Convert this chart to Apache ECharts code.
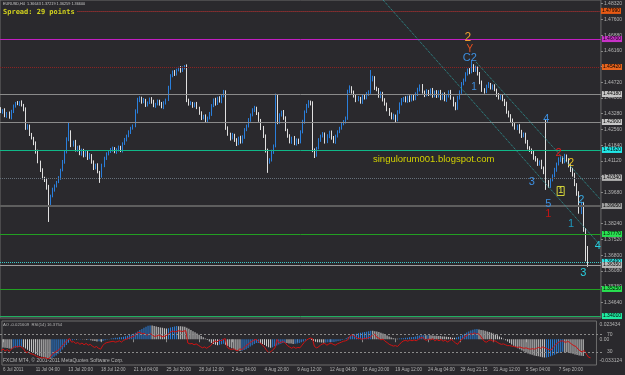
<!DOCTYPE html>
<html>
<head>
<meta charset="utf-8">
<script src="https://cdn.jsdelivr.net/npm/echarts@6/dist/echarts.min.js"></script>
<style>
html,body{margin:0;padding:0;background:#2a292d;}
#chart{width:625px;height:375px;}
</style>
</head>
<body>
<div id="chart"></div>
<script>
// EURUSD H4, 6 Jul - 9 Sep 2011
var tickLabels = ['6 Jul 2011','11 Jul 04:00','13 Jul 20:00','18 Jul 12:00','21 Jul 04:00','25 Jul 20:00','28 Jul 12:00','2 Aug 04:00','4 Aug 20:00','9 Aug 12:00','12 Aug 04:00','16 Aug 20:00','19 Aug 12:00','24 Aug 04:00','28 Aug 21:15','31 Aug 12:00','5 Sep 04:00','7 Sep 20:00'];
var firstOpen = 1.4352;
var closes = [
1.4336,1.4345,1.4318,1.4331,1.4309,1.4336,1.4364,1.4377,1.4373,1.4382,
1.4368,1.4345,1.4263,1.4272,1.4231,1.4217,1.4194,1.4153,1.4107,1.4070,
1.4034,1.4025,1.3988,1.3910,1.3951,1.3979,1.3997,1.4015,1.4034,1.4070,
1.4107,1.4153,1.4208,1.4244,1.4185,1.4199,1.4162,1.4176,1.4144,1.4162,
1.4135,1.4153,1.4125,1.4139,1.4107,1.4080,1.4093,1.4061,1.4043,1.4089,
1.4125,1.4144,1.4153,1.4162,1.4171,1.4153,1.4162,1.4176,1.4158,1.4190,
1.4208,1.4226,1.4244,1.4263,1.4272,1.4336,1.4391,1.4400,1.4382,1.4391,
1.4368,1.4377,1.4396,1.4382,1.4364,1.4373,1.4386,1.4373,1.4359,1.4377,
1.4391,1.4446,1.4501,1.4519,1.4510,1.4528,1.4538,1.4524,1.4538,1.4542,
1.4391,1.4373,1.4377,1.4364,1.4373,1.4354,1.4331,1.4309,1.4318,1.4295,
1.4309,1.4327,1.4364,1.4391,1.4373,1.4400,1.4386,1.4409,1.4423,1.4263,
1.4235,1.4217,1.4231,1.4208,1.4190,1.4217,1.4199,1.4222,1.4254,1.4272,
1.4299,1.4322,1.4345,1.4354,1.4327,1.4299,1.4263,1.4226,1.4162,1.4107,
1.4116,1.4153,1.4180,1.4405,1.4290,1.4322,1.4336,1.4309,1.4254,1.4226,
1.4199,1.4217,1.4190,1.4208,1.4199,1.4244,1.4290,1.4336,1.4364,1.4382,
1.4373,1.4162,1.4139,1.4171,1.4208,1.4226,1.4235,1.4199,1.4226,1.4244,
1.4217,1.4199,1.4226,1.4244,1.4263,1.4281,1.4290,1.4309,1.4428,1.4446,
1.4428,1.4409,1.4391,1.4400,1.4382,1.4409,1.4400,1.4418,1.4428,1.4483,
1.4492,1.4446,1.4437,1.4409,1.4423,1.4391,1.4373,1.4345,1.4327,1.4309,
1.4318,1.4299,1.4336,1.4373,1.4391,1.4400,1.4386,1.4405,1.4391,1.4409,
1.4396,1.4418,1.4437,1.4455,1.4428,1.4414,1.4432,1.4418,1.4437,1.4409,
1.4428,1.4409,1.4428,1.4400,1.4418,1.4391,1.4409,1.4428,1.4400,1.4373,
1.4354,1.4400,1.4428,1.4464,1.4483,1.4510,1.4528,1.4519,1.4547,1.4528,
1.4538,1.4510,1.4473,1.4437,1.4428,1.4455,1.4464,1.4446,1.4455,1.4437,
1.4414,1.4400,1.4409,1.4391,1.4373,1.4336,1.4318,1.4299,1.4276,1.4263,
1.4272,1.4244,1.4226,1.4235,1.4199,1.4171,1.4162,1.4153,1.4125,1.4116,
1.4098,1.4107,1.4080,1.4061,1.4015,1.3997,1.4025,1.4043,1.4070,1.4098,
1.4116,1.4125,1.4107,1.4135,1.4116,1.4089,1.4070,1.4048,1.4002,1.3961,
1.3878,1.3915,1.3796,1.3664,1.3660];
// wick lengths in pips above / below the body
var wickUp = [
6,4,8,5,7,10,6,5,9,4,7,5,12,8,6,9,5,7,10,6,
8,5,9,14,6,10,7,5,8,6,9,7,12,42,8,6,9,5,7,6,
5,8,6,9,4,7,6,8,5,10,6,7,5,9,6,4,8,6,5,7,
9,6,8,5,7,12,10,8,6,9,5,7,6,8,10,5,7,6,9,8,
6,10,8,7,9,6,5,8,7,9,12,6,8,5,7,9,6,8,5,7,
6,9,8,7,10,6,8,9,14,12,7,6,9,5,8,6,10,7,8,6,
9,7,8,10,6,8,5,9,7,6,8,10,7,15,12,8,6,9,7,5,
8,6,9,7,6,8,10,7,9,8,6,12,7,5,8,6,9,7,8,6,
7,9,6,8,5,7,9,6,10,12,8,6,7,9,5,8,6,9,7,45,
10,8,6,9,7,5,8,6,9,7,10,6,8,7,9,5,8,6,7,9,
6,8,10,7,9,6,8,5,7,9,6,8,7,9,6,8,5,7,9,6,
8,10,7,9,6,8,7,9,27,8,10,6,9,7,8,6,9,5,7,8,
6,9,7,8,5,10,6,8,7,9,6,8,10,7,6,9,8,7,6,9,
8,7,10,6,238,9,8,7,10,6,12,8,7,9,6,8,7,10,9,8,
12,10,9,8,58];
var wickDn = [
5,8,6,9,4,7,5,8,6,10,7,6,9,8,5,7,10,8,6,9,
7,10,8,78,9,6,8,7,5,9,6,8,7,6,10,8,7,9,6,8,
7,5,9,6,8,10,7,6,32,8,6,9,7,5,8,6,9,7,6,8,
5,7,6,9,8,6,7,10,8,6,9,7,5,8,6,9,7,8,6,10,
7,5,8,6,9,7,6,8,5,7,10,8,6,9,7,5,8,10,7,6,
8,7,9,6,8,5,7,10,6,9,8,12,7,9,10,6,8,7,9,6,
7,8,6,9,5,8,10,9,12,50,8,7,9,6,10,8,7,9,6,8,
7,9,6,8,10,7,6,8,5,9,7,10,14,8,6,9,7,8,6,10,
8,6,9,7,5,8,6,7,9,6,8,7,10,6,8,9,7,6,8,9,
7,9,6,8,10,7,8,6,9,7,8,10,6,8,7,9,6,8,10,7,
8,6,9,7,8,10,6,9,7,8,6,9,7,10,8,6,9,7,8,12,
10,8,7,9,6,8,7,10,6,9,8,7,10,9,8,6,9,7,8,6,
9,7,8,6,10,8,7,9,6,8,10,7,9,6,8,7,9,10,8,7,
9,8,6,10,36,8,9,7,6,8,7,9,8,6,10,7,9,8,6,9,
8,10,9,12,34];
// Awesome Oscillator, in pips
var aoPips = [
-105,-110,-114,-118,-121,-116,-110,-104,-99,-96,
-104,-118,-135,-150,-165,-178,-192,-205,-215,-224,
-232,-238,-244,-248,-240,-226,-208,-186,-160,-132,
-102,-74,-46,-22,-12,-6,-8,-2,4,2,
-4,-10,-8,-14,-20,-24,-28,-26,-30,-24,
-14,-6,2,8,14,18,20,24,26,32,
38,46,54,62,70,82,100,118,132,146,
160,172,178,176,170,164,158,150,146,140,
138,142,150,158,164,170,168,166,164,160,
148,134,120,104,90,74,58,40,24,10,
-10,-30,-48,-60,-70,-76,-72,-66,-58,-70,
-86,-102,-116,-128,-138,-146,-150,-148,-140,-128,
-112,-94,-76,-60,-50,-48,-52,-60,-74,-90,
-102,-108,-104,-90,-80,-68,-58,-50,-48,-50,
-54,-56,-60,-58,-56,-50,-40,-28,-16,-6,
0,-10,-22,-32,-38,-40,-42,-44,-42,-40,
-38,-36,-34,-30,-24,-18,-10,-2,12,28,
42,54,64,72,78,84,88,92,96,104,
110,108,104,98,92,84,74,62,48,34,
22,12,8,6,8,12,14,18,20,24,
26,30,36,44,48,50,52,50,52,50,
48,46,44,42,40,36,34,32,30,26,
20,18,22,32,44,58,72,86,100,112,
122,128,130,126,120,114,108,100,92,84,
74,62,50,36,22,6,-12,-30,-50,-68,
-84,-100,-116,-130,-144,-158,-170,-182,-192,-200,
-208,-214,-220,-226,-232,-236,-234,-228,-220,-210,
-198,-186,-176,-168,-162,-164,-168,-172,-180,-188,
-196,-202,-208,-212,-216];
var rsi = [
33,36,32,35,31,36,40,42,41,43,
40,36,28,30,26,25,23,20,18,17,
16,17,15,14,20,26,29,32,35,41,
46,52,57,60,52,53,49,51,47,50,
46,49,45,47,43,40,42,38,36,44,
49,51,52,53,54,52,53,55,52,56,
58,60,62,64,65,70,74,74,71,72,
68,69,71,68,65,66,68,66,64,66,
68,72,76,77,75,77,78,76,77,78,
50,48,49,46,48,45,42,39,41,38,
41,44,50,55,52,57,55,58,60,40,
37,35,37,34,32,37,35,39,44,47,
51,54,57,58,54,50,45,40,33,28,
30,35,39,58,50,52,53,50,44,41,
38,41,38,40,39,45,51,56,59,61,
60,42,39,41,46,48,49,45,48,50,
47,45,48,50,52,54,55,57,65,69,
66,63,60,61,58,61,60,62,63,69,
70,63,61,57,59,54,51,47,45,43,
44,42,47,52,55,56,54,57,55,57,
55,58,61,63,58,56,59,57,60,55,
58,55,58,54,57,52,55,58,54,50,
47,54,58,63,66,69,71,70,73,70,
71,66,59,53,52,56,57,54,55,52,
49,47,48,46,44,44,43,42,41,40,
41,39,38,39,37,36,37,36,38,40,
38,41,39,37,35,34,40,45,50,53,
55,54,51,54,51,47,44,42,36,32,
30,33,25,18,16.4];
var aoMin = -0.033124, aoMax = 0.023434;
var levelPrices = [1.4799,1.4670,1.4542,1.4418,1.4290,1.4162,1.4034,1.3905,1.3777,1.3649,1.3635,1.3525,1.3401];
var trendLines = [[[185,1.4849],[290,1.3727]],[[230,1.4565],[290,1.3938]]];
var waveText  = ['2','Y','C2','1','4','2','2','1','3','5','1','2','1','4','3'];
var waveBar   = [226,227,227,229,264,270,276,271,257,265,265,281,276,289,282];
var wavePrice = [1.4675,1.4624,1.4583,1.4450,1.4304,1.4148,1.4102,1.3974,1.4015,1.3914,1.3868,1.3933,1.3823,1.3722,1.3598];

// styles
var levelStyle = [
  {color:'#c83232', type:'dotted', width:1, box:'#e85a14', from:37},
  {color:'#c21ec2', type:'solid', width:1, box:'#c832c8'},
  {color:'#8c2222', type:'dotted', width:1, box:'#e8641e'},
  {color:'#8a8a8a', type:'solid', width:1, box:'#c8c8c8'},
  {color:'#8a8a8a', type:'solid', width:1, box:'#c8c8c8'},
  {color:'#10b888', type:'solid', width:1, box:'#20e8e8'},
  {color:'#66707a', type:'dotted', width:1, box:'#b4b4b4'},
  {color:'#5e5e5e', type:'solid', width:2, box:'#a0a0a0'},
  {color:'#22a022', type:'solid', width:1, box:'#28e050'},
  {color:'#3cc8c8', type:'dotted', width:1, box:'#30e8e8'},
  {color:'#a0a0a0', type:'solid', width:1, box:'#b8b8b8'},
  {color:'#22a022', type:'solid', width:1, box:'#28e050'},
  {color:'#20b060', type:'solid', width:1, box:'#20e8a0'}
];
var waveColor = ['#f0a030','#e8501e','#3d8fe0','#3d8fe0','#3d8fe0','#e02020','#e6c21e','#e0e040','#3d8fe0','#3d8fe0','#c01515','#38a8e0','#1e9ac0','#28d0e0','#28d0e0'];
var waveSize  = [12,10,11,10,11,11,11,9,11,11,11,11,11,11,11];

var cats = [];
for (var i = 0; i < 291; i++) cats.push(String(i));
var candles = [];
for (var i = 0; i < closes.length; i++) {
  var o = i ? closes[i-1] : firstOpen;
  var c = closes[i];
  candles.push([o, c, Math.min(o,c) - wickDn[i]/10000, Math.max(o,c) + wickUp[i]/10000]);
}
var aoData = aoPips.map(function(v, i){
  var up = i > 0 && v > aoPips[i-1];
  return {value: v/10000, itemStyle:{color: up ? '#2a7fdc' : '#d2d2d2'}};
});
var levelLines = levelPrices.map(function(p, k){
  var s = levelStyle[k];
  var lbl = {show:true, position:'end', formatter:p.toFixed(5), backgroundColor:s.box, color:'#000', fontSize:5, padding:[1,1,0,1], distance:1};
  var ls = {color:s.color, type:s.type, width:s.width};
  if (s.from) return [{coord:[s.from, p], lineStyle:ls, label:lbl}, {coord:[290, p]}];
  return {yAxis:p, lineStyle:ls, label:lbl};
});
trendLines.forEach(function(t){
  levelLines.push([{coord:t[0], lineStyle:{color:'#2e9e9e', type:'dotted', width:1}, label:{show:false}}, {coord:t[1]}]);
});
var wavePoints = waveText.map(function(t, k){
  var lbl = {show:true, position:'inside', formatter:t, color:waveColor[k], fontSize:waveSize[k], fontFamily:'Liberation Sans, Arial, sans-serif'};
  if (k === 7) { lbl.borderColor = '#d6d63a'; lbl.borderWidth = 1; lbl.padding = [0,1,0,1]; }
  return {coord:[waveBar[k], wavePrice[k]], label:lbl};
});
function tickAt(idx){ return idx % 16 === 0 && idx / 16 < tickLabels.length; }

var myChart = echarts.init(document.getElementById('chart'));
var option = {
  backgroundColor: '#2a292d',
  animation: false,
  textStyle: {fontFamily: 'Liberation Sans, Arial, sans-serif'},
  grid: [
    {left:0, right:21, top:0, height:318, show:true, borderColor:'#6c6c6c', borderWidth:1, backgroundColor:'transparent'},
    {left:0, right:21, top:321, height:44, show:true, borderColor:'#6c6c6c', borderWidth:1, backgroundColor:'transparent'},
    {left:0, right:21, top:321, height:44}
  ],
  xAxis: [
    {gridIndex:0, type:'category', data:cats, boundaryGap:true, axisLine:{show:false}, axisTick:{show:false}, axisLabel:{show:false}},
    {gridIndex:1, type:'category', data:cats, boundaryGap:true, axisLine:{show:false},
      axisTick:{show:true, alignWithLabel:true, interval:tickAt, length:3, lineStyle:{color:'#8a8a8a'}},
      axisLabel:{show:true, interval:tickAt, formatter:function(v, idx){ return tickLabels[idx/16] || ''; }, color:'#b4b4b4', fontSize:4.5, align:'left', margin:2}},
    {gridIndex:2, type:'category', data:cats, boundaryGap:true, show:false}
  ],
  yAxis: [
    {gridIndex:0, type:'value', position:'right', min:1.3392, max:1.4849, interval:0.0072,
      axisLine:{show:false}, axisTick:{show:true, length:2, lineStyle:{color:'#8a8a8a'}}, splitLine:{show:false},
      axisLabel:{color:'#b4b4b4', fontSize:5, margin:3, showMinLabel:false, showMaxLabel:false, formatter:function(v){ return v.toFixed(5); }}},
    {gridIndex:1, type:'value', position:'right', min:aoMin, max:aoMax, interval:-aoMin,
      axisLine:{show:false}, axisTick:{show:false}, splitLine:{show:false},
      axisLabel:{color:'#b4b4b4', fontSize:5, margin:3, formatter:function(v){
        if (v >= aoMax) return '{t|' + aoMax.toFixed(6) + '}';
        if (v <= aoMin) return '{b|' + aoMin.toFixed(6) + '}';
        return '0.00';
      }, rich:{t:{padding:[8,0,0,0], fontSize:5, color:'#b4b4b4'}, b:{padding:[0,0,8,0], fontSize:5, color:'#b4b4b4'}}}},
    {gridIndex:2, type:'value', position:'right', min:0, max:100, interval:10,
      axisLine:{show:false}, axisTick:{show:false}, splitLine:{show:false},
      axisLabel:{color:'#b4b4b4', fontSize:5, margin:3, formatter:function(v){ return (v === 70 || v === 30) ? String(v) : ''; }}}
  ],
  series: [
    {type:'candlestick', xAxisIndex:0, yAxisIndex:0, data:candles, barWidth:1.3,
      itemStyle:{color:'#2a7fdc', color0:'#f4f4f4', borderColor:'#2a7fdc', borderColor0:'#e0e0e0', borderWidth:1},
      markLine:{silent:true, precision:6, symbol:['none','none'], data:levelLines},
      markPoint:{silent:true, symbol:'rect', symbolSize:1, itemStyle:{color:'rgba(0,0,0,0)'}, data:wavePoints}},
    {type:'bar', xAxisIndex:1, yAxisIndex:1, data:aoData, barWidth:1},
    {type:'line', xAxisIndex:2, yAxisIndex:2, data:rsi, symbol:'none', lineStyle:{color:'#d01212', width:1},
      markLine:{silent:true, precision:2, symbol:['none','none'], label:{show:false}, lineStyle:{color:'#8a8a8a', type:[2,2], width:1},
        data:[{yAxis:70},{yAxis:30}]}}
  ],
  graphic: [
    {type:'text', left:3, top:2, style:{text:'EURUSD,H4  1.36643 1.37219 1.36259 1.36600', fill:'#c8c8c8', font:'3.8px Liberation Sans'}},
    {type:'text', left:3, top:9, style:{text:'Spread: 29 points', fill:'#d4d41e', font:'bold 7px DejaVu Sans Mono'}},
    {type:'text', left:373, top:154, style:{text:'singulorum001.blogspot.com', fill:'#d2d200', font:'9.5px Liberation Sans'}},
    {type:'text', left:3, top:323, style:{text:'AO -0.021609  RSI(14) 16.3754', fill:'#b4b4b4', font:'4.2px Liberation Sans'}},
    {type:'text', left:3, top:358, style:{text:'FXCM MT4, \u00a9 2001-2011 MetaQuotes Software Corp.', fill:'#b4b4b4', font:'5px Liberation Sans'}}
  ]
};
myChart.setOption(option);
</script>
</body>
</html>
